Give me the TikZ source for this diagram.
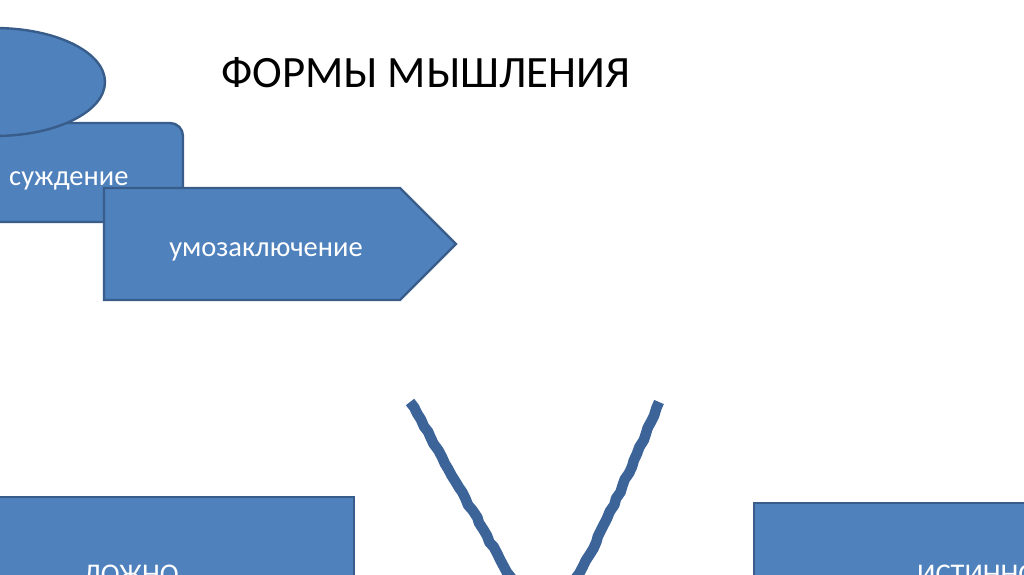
\documentclass[tikz,border=0pt]{standalone}
\usepackage{fontspec}
\setmainfont{Carlito}
\usetikzlibrary{decorations.pathmorphing}
\definecolor{boxfill}{HTML}{4F81BD}
\definecolor{boxline}{HTML}{385D8A}
\definecolor{vline}{HTML}{3C6499}
\tikzset{
  shapebox/.style={fill=boxfill, draw=boxline, line width=2.4pt},
  boxtext/.style={text=white, font=\fontsize{28.5}{31}\selectfont, inner sep=0pt},
  wavy/.style={draw=vline, line width=10.5pt, line join=round, decorate,
    decoration={random steps, segment length=7pt, amplitude=1pt}},
}
\begin{document}
\begin{tikzpicture}[x=1pt, y=-1pt]
\clip (0,0) rectangle (1024,574);
\fill[white] (0,0) rectangle (1024,574);
% title
\node[anchor=base west, inner sep=0pt, font=\fontsize{44.8}{48}\selectfont] (title) at (221,87) {ФОРМЫ МЫШЛЕНИЯ};
% rounded box (суждение)
\draw[shapebox, rounded corners=13pt] (-60,123) rectangle (183,222);
% ellipse
\draw[shapebox] (-5,82) ellipse [x radius=110, y radius=54];
\node[boxtext, anchor=base west] (judg) at (9,185) {суждение};
% pentagon (умозаключение)
\draw[shapebox] (104,188) -- (400,188) -- (456,244) -- (400,300) -- (104,300) -- cycle;
\node[boxtext, anchor=base] (infer) at (266,256) {умозаключение};
% V lines
\coordinate (la) at (410,402);
\coordinate (lb) at (515,585);
\coordinate (ra) at (659,402);
\coordinate (rb) at (572,585);
\draw[wavy] (la) -- (lb);
\draw[wavy] (ra) .. controls (630,470) and (605,530) .. (rb);
% bottom boxes
\draw[shapebox] (-20,497) rectangle (354,600);
\node[boxtext, anchor=base] (false) at (131,583) {ЛОЖНО};
\draw[shapebox] (754,503) rectangle (1040,600);
\node[boxtext, anchor=base west] (true) at (917,583) {ИСТИННО};
\end{tikzpicture}
\end{document}
